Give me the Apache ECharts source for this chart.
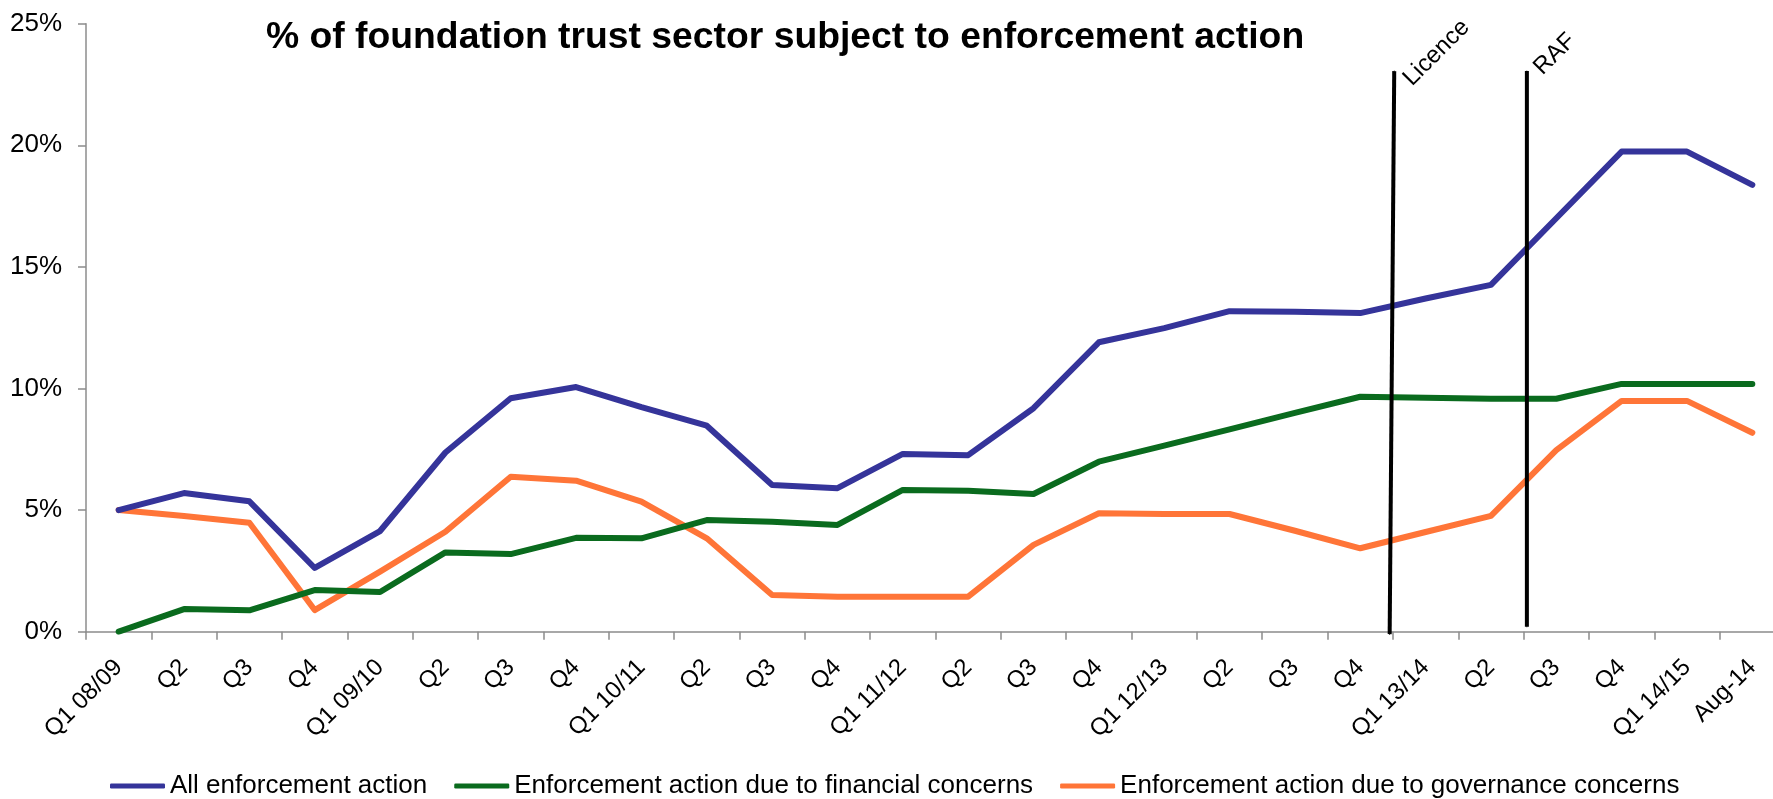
<!DOCTYPE html>
<html>
<head>
<meta charset="utf-8">
<script src="https://cdn.jsdelivr.net/npm/echarts@6/dist/echarts.min.js"></script>
<style>
  html, body { margin: 0; padding: 0; background: #fff; }
  #chart { width: 1773px; height: 799px; }
</style>
</head>
<body>
<div id="chart"></div>
<script>
// Quarterly periods, 2008/09 to August 2014
const categories = ['Q1 08/09', 'Q2', 'Q3', 'Q4', 'Q1 09/10', 'Q2', 'Q3', 'Q4',
  'Q1 10/11', 'Q2', 'Q3', 'Q4', 'Q1 11/12', 'Q2', 'Q3', 'Q4',
  'Q1 12/13', 'Q2', 'Q3', 'Q4', 'Q1 13/14', 'Q2', 'Q3', 'Q4', 'Q1 14/15', 'Aug-14'];

// % of foundation trusts subject to enforcement action
const allAction = [5.0, 5.7, 5.36, 2.62, 4.14, 7.37, 9.6, 10.06, 9.23, 8.47, 6.03, 5.9,
  7.31, 7.26, 9.19, 11.9, 12.48, 13.18, 13.16, 13.1, 13.7, 14.26, 17.0, 19.74, 19.74, 18.37];
const financialConcerns = [0, 0.93, 0.88, 1.71, 1.63, 3.26, 3.19, 3.86, 3.84, 4.59, 4.52, 4.39,
  5.83, 5.8, 5.66, 6.99, 7.65, 8.32, 9.0, 9.66, 9.62, 9.58, 9.58, 10.19, 10.19, 10.19];
const governanceConcerns = [5.0, 4.76, 4.48, 0.89, 2.47, 4.11, 6.37, 6.21, 5.35, 3.84, 1.51, 1.44,
  1.44, 1.44, 3.57, 4.87, 4.84, 4.84, 4.15, 3.43, 4.1, 4.76, 7.47, 9.49, 9.49, 8.18];

const seriesNames = ['All enforcement action',
  'Enforcement action due to financial concerns',
  'Enforcement action due to governance concerns'];

// Y axis ticks (percent)
const yTicks = [0, 5, 10, 15, 20, 25];

// Regime change markers, positioned on the period index scale
const eventNames = ['Licence', 'RAF'];
const eventTopIndex = [19.52, 21.55];
const eventBaseIndex = [19.45, 21.55];
const eventTopValue = [23.05, 23.05];
const eventBaseValue = [-0.1, 0.2];

const FONT = "'Liberation Sans', Arial, sans-serif";
const colors = ['#35349A', '#0A6B1E', '#FF7538'];
// where each marker caption sits relative to the top of its marker line
const eventLabelOffset = [[22, 20], [20, 9]];

const chart = echarts.init(document.getElementById('chart'), null, { renderer: 'canvas' });

const lineSeries = [allAction, financialConcerns, governanceConcerns].map((vals, i) => ({
  name: seriesNames[i],
  type: 'line',
  data: vals,
  xAxisIndex: 0,
  yAxisIndex: 0,
  symbol: 'none',
  smooth: false,
  z: 5 - i,
  lineStyle: { color: colors[i], width: 6, cap: 'round', join: 'round' },
  itemStyle: { color: colors[i] }
}));

const eventSeries = eventNames.map((name, i) => ({
  name: name,
  type: 'line',
  xAxisIndex: 1,
  yAxisIndex: 0,
  clip: false,
  silent: true,
  z: 10,
  symbol: 'circle',
  symbolSize: 1,
  itemStyle: { color: '#000' },
  lineStyle: { color: '#000', width: 4 },
  data: [
    { value: [eventBaseIndex[i], eventBaseValue[i]] },
    {
      value: [eventTopIndex[i], eventTopValue[i]],
      label: {
        show: true,
        formatter: name,
        position: eventLabelOffset[i],
        align: 'left',
        verticalAlign: 'bottom',
        rotate: 45,
        color: '#000',
        fontFamily: FONT,
        fontSize: 24
      }
    }
  ]
}));

chart.setOption({
  animation: false,
  backgroundColor: '#fff',
  title: {
    text: '% of foundation trust sector subject to enforcement action',
    left: 266,
    top: 19,
    padding: 0,
    textStyle: { fontFamily: FONT, fontSize: 37.3, fontWeight: 'bold', color: '#000' }
  },
  legend: {
    data: seriesNames,
    left: 110,
    top: 773,
    padding: 0,
    itemWidth: 55,
    itemHeight: 5,
    itemGap: 27,
    icon: 'roundRect',
    textStyle: { fontFamily: FONT, fontSize: 26, color: '#000' }
  },
  // plot band runs slightly past the right edge of the canvas
  grid: {
    left: 86, width: 1699, top: 23.7, height: 608,
    containLabel: false,
    outerBoundsMode: 'none'
  },
  xAxis: [
    {
      type: 'category',
      data: categories,
      boundaryGap: true,
      axisLine: { show: true, lineStyle: { color: '#8c8c8c', width: 1.5 } },
      axisTick: { show: true, length: 8, lineStyle: { color: '#8c8c8c', width: 1.5 } },
      axisLabel: {
        interval: 0,
        rotate: 45,
        margin: 32,
        color: '#000',
        fontFamily: FONT,
        fontSize: 24
      },
      splitLine: { show: false }
    },
    {
      type: 'value',
      min: -0.5,
      max: categories.length - 0.5,
      show: false,
      splitLine: { show: false }
    }
  ],
  yAxis: {
    type: 'value',
    min: yTicks[0],
    max: yTicks[yTicks.length - 1],
    interval: yTicks[1] - yTicks[0],
    axisLine: { show: true, onZero: false, lineStyle: { color: '#8c8c8c', width: 1.5 } },
    axisTick: { show: true, length: 8, lineStyle: { color: '#8c8c8c', width: 1.5 } },
    axisLabel: {
      margin: 24,
      color: '#000',
      fontFamily: FONT,
      fontSize: 26,
      formatter: '{value}%'
    },
    splitLine: { show: false }
  },
  series: lineSeries.concat(eventSeries)
});
</script>
</body>
</html>
